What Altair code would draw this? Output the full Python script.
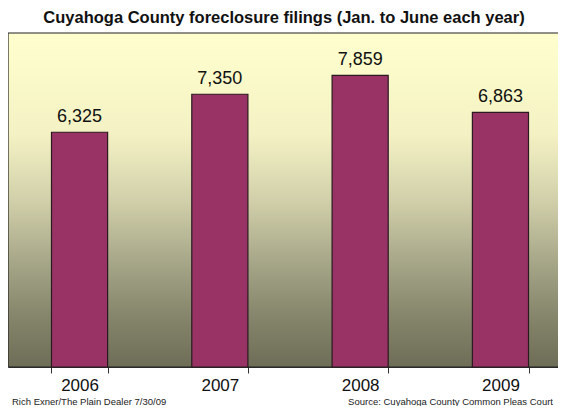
import altair as alt
import pandas as pd

years = ["2006", "2007", "2008", "2009"]
filings = [6325, 7350, 7859, 6863]
labels = ["6,325", "7,350", "7,859", "6,863"]

title_text = "Cuyahoga County foreclosure filings (Jan. to June each year)"
credit = "Rich Exner/The Plain Dealer 7/30/09"
source = "Source: Cuyahoga County Common Pleas Court"

df = pd.DataFrame({"year": years, "filings": filings, "label": labels})

W, H = 550, 334

xscale = alt.Scale(domain=years, paddingInner=0.6, paddingOuter=0.31, range=[0, 564])
yscale = alt.Scale(domain=[0, 9000], nice=False)

bg = alt.Chart(pd.DataFrame({"a": [0]})).mark_rect(
    color=alt.Gradient(
        gradient="linear",
        x1=0, x2=0, y1=0, y2=1,
        stops=[
            alt.GradientStop(offset=0, color="#FFFFCE"),
            alt.GradientStop(offset=0.3, color="#F4F2C4"),
            alt.GradientStop(offset=0.5, color="#D2D0AA"),
            alt.GradientStop(offset=0.7, color="#A3A386"),
            alt.GradientStop(offset=0.85, color="#85856B"),
            alt.GradientStop(offset=1, color="#6E6E58"),
        ],
    ),
    stroke="#222222",
    strokeWidth=1.2,
).encode(x=alt.value(0), x2=alt.value(W + 4), y=alt.value(0), y2=alt.value(H))

base = alt.Chart(df)

bars = base.mark_bar(color="#993366", stroke="#2a1a1f", strokeWidth=1.2).encode(
    x=alt.X("year:N", scale=xscale, sort=years,
            axis=alt.Axis(title=None, labelAngle=0, labelFont="Liberation Sans",
                          labelFontSize=17, labelColor="#111111", labelPadding=4,
                          tickBand="extent", tickSize=6, tickColor="#333333",
                          domainColor="#333333", domainWidth=1.2)),
    y=alt.Y("filings:Q", scale=yscale, axis=None),
)

text = base.mark_text(font="Liberation Sans", fontSize=18, color="#111111",
                      baseline="alphabetic", dy=-10).encode(
    x=alt.X("year:N", scale=xscale, sort=years),
    y=alt.Y("filings:Q", scale=yscale),
    text="label:N",
)

credit_mark = alt.Chart(pd.DataFrame({"t": [credit]})).mark_text(
    font="Liberation Sans", fontSize=9.5, color="#222222", align="left",
    baseline="alphabetic").encode(x=alt.value(4), y=alt.value(H + 38), text="t:N")
source_mark = alt.Chart(pd.DataFrame({"t": [source]})).mark_text(
    font="Liberation Sans", fontSize=9.5, color="#222222", align="right",
    baseline="alphabetic").encode(x=alt.value(545), y=alt.value(H + 38), text="t:N")

chart = alt.layer(bg, bars, text, credit_mark, source_mark).properties(
    width=W, height=H,
    title=alt.TitleParams(title_text, font="Liberation Sans", fontSize=16.5,
                          fontWeight="bold", color="#111111", anchor="middle",
                          dx=1, offset=9, dy=16, baseline="alphabetic"),
    autosize=alt.AutoSizeParams(type="none"),
    padding={"left": 0, "top": 25, "right": 0, "bottom": 39},
).configure_view(stroke=None).configure(background="white")

chart.save("out.html", embed_options={"renderer": "svg", "actions": False})
